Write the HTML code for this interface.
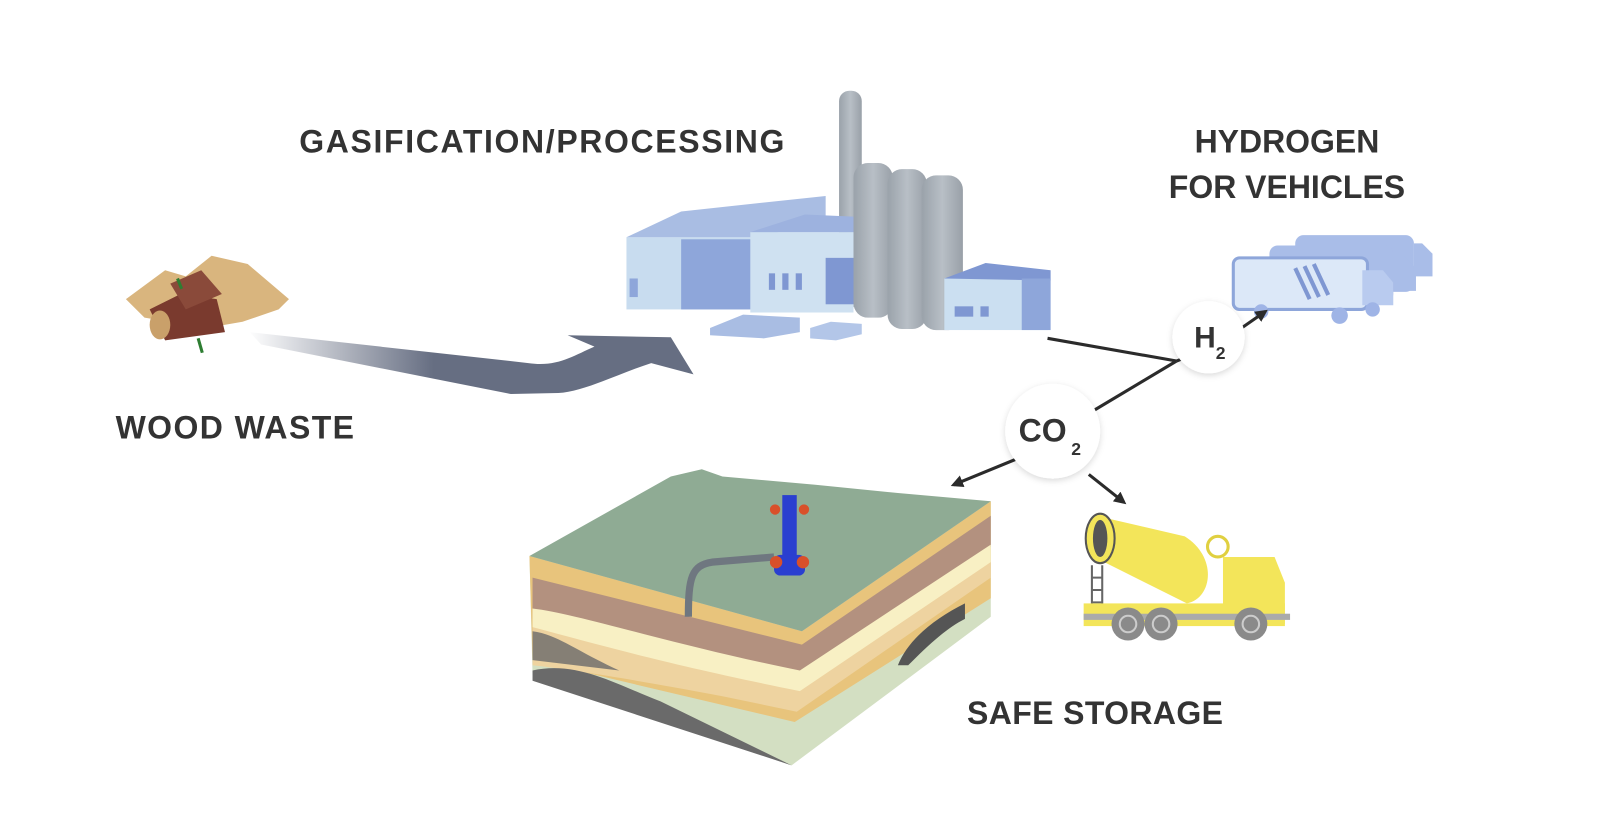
<!DOCTYPE html>
<html><head><meta charset="utf-8"><style>
html,body{margin:0;padding:0;background:#fff;}
svg{display:block;}
text{font-family:"Liberation Sans",sans-serif;font-weight:bold;fill:#333;}
</style></head><body>
<svg width="1610" height="820" viewBox="0 0 1560 795" preserveAspectRatio="none">
<defs>
<linearGradient id="ag" x1="240" y1="0" x2="420" y2="0" gradientUnits="userSpaceOnUse">
<stop offset="0" stop-color="#666e82" stop-opacity="0"/><stop offset="1" stop-color="#666e82"/></linearGradient>
<linearGradient id="cyl" x1="0" y1="0" x2="1" y2="0"><stop offset="0" stop-color="#9aa2aa"/><stop offset="0.5" stop-color="#b8bfc6"/><stop offset="1" stop-color="#99a0a8"/></linearGradient>
<filter id="sh" x="-20%" y="-20%" width="140%" height="140%"><feDropShadow dx="0" dy="2" stdDeviation="3" flood-color="#000" flood-opacity="0.15"/></filter>
<marker id="ah" markerWidth="12" markerHeight="12" refX="9" refY="6" orient="auto" markerUnits="userSpaceOnUse"><path d="M0,0 L12,6 L0,12 z" fill="#2b2b2b"/></marker>
</defs>

<text x="290" y="148" font-size="31" textLength="470">GASIFICATION/PROCESSING</text>
<text x="1247" y="148" font-size="31" text-anchor="middle">HYDROGEN</text>
<text x="1247" y="192" font-size="31" text-anchor="middle">FOR VEHICLES</text>
<text x="112" y="425" font-size="31" textLength="231">WOOD WASTE</text>
<text x="937" y="702" font-size="31" textLength="248">SAFE STORAGE</text>

<!-- wood -->
<g>
<polygon points="122,290 160,262 180,268 205,248 240,256 280,290 270,300 235,312 200,318 140,308" fill="#d9b57e"/>
<polygon points="145,300 175,285 210,290 218,322 160,330" fill="#7a3a2e"/>
<polygon points="165,275 195,262 215,285 180,300" fill="#8a4a3a"/>
<ellipse cx="155" cy="315" rx="10" ry="14" fill="#c9a06a"/>
<path d="M192,328 L196,342" stroke="#2e7d32" stroke-width="3"/>
<path d="M172,270 L176,280" stroke="#2e7d32" stroke-width="3"/>
</g>

<path d="M242,322 L512,352 C540,356 555,345 576,336 L550,325 L650,327 L672,363 L631,352 C600,362 565,380 541,381 L495,382 L253,334 z" fill="url(#ag)"/>

<!-- factory -->
<g>
<rect x="813" y="88" width="22" height="210" rx="10" fill="url(#cyl)"/>
<rect x="607" y="230" width="125" height="70" fill="#c8dcef"/>
<polygon points="607,230 660,205 800,190 800,215 732,230" fill="#a9bde3"/>
<rect x="660" y="232" width="72" height="68" fill="#8ea6da"/>
<rect x="727" y="225" width="100" height="78" fill="#cfe1f1"/>
<polygon points="727,225 780,208 827,210 827,225" fill="#9db2df"/>
<rect x="800" y="250" width="27" height="45" fill="#7f97d2"/>
<rect x="745" y="265" width="6" height="16" fill="#7f97d2"/><rect x="758" y="265" width="6" height="16" fill="#7f97d2"/><rect x="771" y="265" width="6" height="16" fill="#7f97d2"/>
<rect x="610" y="270" width="8" height="18" fill="#8ea6da"/>
<rect x="827" y="158" width="38" height="150" rx="14" fill="url(#cyl)"/>
<rect x="860" y="164" width="38" height="155" rx="14" fill="url(#cyl)"/>
<rect x="893" y="170" width="40" height="150" rx="14" fill="url(#cyl)"/>
<rect x="915" y="270" width="100" height="50" fill="#cbdff1"/>
<polygon points="915,270 955,255 1018,262 1018,272" fill="#7f97d2"/>
<rect x="990" y="270" width="28" height="50" fill="#8ea6da"/>
<rect x="925" y="297" width="18" height="10" fill="#7f97d2"/><rect x="950" y="297" width="8" height="10" fill="#7f97d2"/>
<polygon points="688,318 720,305 775,308 775,322 740,328 688,325" fill="#a9bde3"/>
<polygon points="785,318 805,312 835,314 835,324 810,330 785,328" fill="#b3c6e8"/>
</g>

<!-- trucks -->
<g fill="#a9bde8">
<rect x="1255" y="228" width="115" height="55" rx="8"/>
<rect x="1230" y="238" width="120" height="55" rx="8"/>
<rect x="1195" y="250" width="130" height="50" rx="6" fill="#dce8f8" stroke="#8ea6da" stroke-width="3"/>
<path d="M1320,262 h20 l10,12 v22 h-30z" fill="#b9cbef"/>
<path d="M1350,248 h10 l12,12 v22 h-22z"/><path d="M1370,236 h8 l10,10 v22 h-18z"/>
<circle cx="1222" cy="302" r="7" fill="#9fb4e6"/><circle cx="1298" cy="306" r="8" fill="#9fb4e6"/><circle cx="1330" cy="300" r="7" fill="#9fb4e6"/>
<path d="M1255,260 l14,30 M1264,258 l14,30 M1273,256 l14,30" stroke="#7f97d2" stroke-width="4"/>
</g>

<g stroke="#2b2b2b" stroke-width="3" fill="none">
<path d="M1015,328 L1140,350"/>
<path d="M1140,350 L1048,405"/>
<path d="M1140,350 L1160,342"/>
<path d="M1203,318 L1226,302" marker-end="url(#ah)"/>
<path d="M985,445 L924,470" marker-end="url(#ah)"/>
<path d="M1055,460 L1089,487" marker-end="url(#ah)"/>
</g>
<circle cx="1171" cy="327" r="35" fill="#fff" filter="url(#sh)"/>
<text x="1157" y="337" font-size="29" font-weight="normal">H</text><text x="1178" y="348" font-size="17">2</text>
<circle cx="1020" cy="418" r="46" fill="#fff" filter="url(#sh)"/>
<text x="987" y="428" font-size="31">CO</text><text x="1038" y="441" font-size="17">2</text>

<!-- ground block -->
<g>
<polygon points="513,539 960,486 960,598 767,742 516,654" fill="#d3dfc2"/>
<path d="M513,539 L777,612 L960,486 L960,580 L770,700 L516,640z" fill="#e8c47c"/>
<path d="M516,595 C560,600 620,620 700,640 L772,660 L960,545 L960,560 L772,690 L700,675 C620,660 560,650 516,645z" fill="#eed3a0"/>
<path d="M516,560 L777,625 L960,500 L960,530 L777,655 L516,600z" fill="#b3917f"/>
<path d="M516,590 C560,595 650,625 775,650 L960,528 L960,545 L775,670 C650,645 580,625 516,608z" fill="#f8f0c4"/>
<path d="M516,650 C560,640 600,665 640,680 L767,742 L516,660z" fill="#6a6a6a"/>
<path d="M516,612 C540,615 560,632 600,650 L516,640z" fill="#6a6a6a" opacity="0.8"/>
<path d="M870,645 C880,620 905,600 935,585 L935,600 C915,610 895,630 880,645z" fill="#555"/>
<polygon points="513,539 650,462 680,455 700,462 790,470 870,478 960,486 777,612" fill="#8fab94"/>
<path d="M667,598 C667,560 670,548 690,545 L750,540" stroke="#6f7780" stroke-width="7" fill="none"/>
<rect x="758" y="480" width="14" height="70" fill="#2a3fd0"/>
<rect x="750" y="538" width="30" height="20" rx="6" fill="#2a3fd0"/>
<circle cx="751" cy="494" r="5" fill="#d9502a"/><circle cx="779" cy="494" r="5" fill="#d9502a"/>
<circle cx="752" cy="545" r="6" fill="#d9502a"/><circle cx="778" cy="545" r="6" fill="#d9502a"/>
</g>

<!-- cement truck -->
<g>
<path d="M1062,500 L1148,520 C1180,540 1175,580 1150,585 L1070,545 z" fill="#f3e55a"/>
<ellipse cx="1066" cy="522" rx="14" ry="24" fill="#f3e55a" stroke="#555" stroke-width="2"/>
<ellipse cx="1066" cy="522" rx="7" ry="18" fill="#555"/>
<circle cx="1180" cy="530" r="10" fill="none" stroke="#e0d040" stroke-width="3"/>
<path d="M1058,548 v50 M1068,548 v50" stroke="#666" stroke-width="2"/>
<path d="M1058,560 h10 M1058,572 h10 M1058,584 h10" stroke="#666" stroke-width="2"/>
<path d="M1185,540 h50 l10,25 v40 h-60z" fill="#f3e55a"/>
<rect x="1050" y="585" width="195" height="22" fill="#f3e55a"/>
<rect x="1050" y="595" width="200" height="6" fill="#aaa"/>
<g fill="#8a8a8a"><circle cx="1093" cy="605" r="16"/><circle cx="1125" cy="605" r="16"/><circle cx="1212" cy="605" r="16"/></g>
<g fill="none" stroke="#ccc" stroke-width="2"><circle cx="1093" cy="605" r="8"/><circle cx="1125" cy="605" r="8"/><circle cx="1212" cy="605" r="8"/></g>
</g>
</svg>
</body></html>
